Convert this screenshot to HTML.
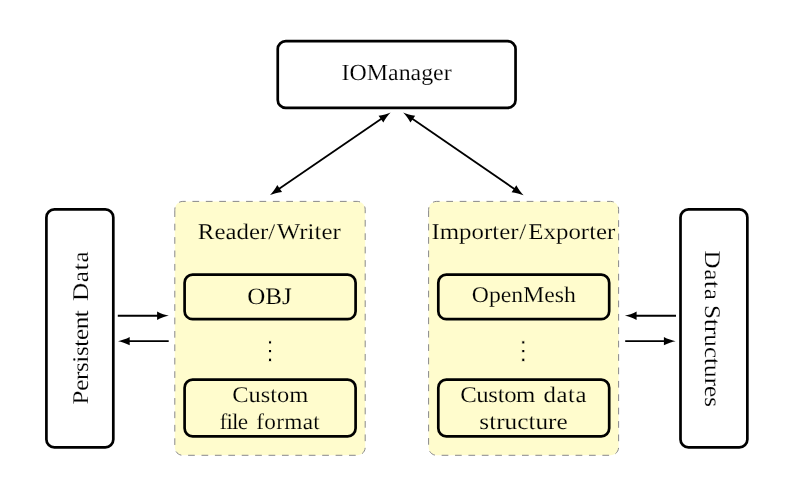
<!DOCTYPE html>
<html><head><meta charset="utf-8"><title>IOManager diagram</title>
<style>
html,body{margin:0;padding:0;background:#fff;}
body{width:800px;height:489px;overflow:hidden;}
svg{display:block;will-change:transform;}
svg text{font-family:"Liberation Serif",serif;fill:#000;text-rendering:geometricPrecision;}
svg text.vd{font-family:"DejaVu Sans","DejaVu Serif",sans-serif;}
</style></head>
<body>
<svg width="800" height="489" viewBox="0 0 800 489">
<rect x="0" y="0" width="800" height="489" fill="#fff"/>
<path d="M277.75 49.10 L277.75 99.90 C277.75 104.32 281.33 107.90 285.75 107.90 L507.55 107.90 C511.97 107.90 515.55 104.32 515.55 99.90 L515.55 49.10 C515.55 44.68 511.97 41.10 507.55 41.10 L285.75 41.10 C281.33 41.10 277.75 44.68 277.75 49.10 Z" fill="#fff" stroke="#000" stroke-width="2.7" />
<path d="M46.40 217.40 L46.40 439.40 C46.40 443.82 49.98 447.40 54.40 447.40 L105.30 447.40 C109.72 447.40 113.30 443.82 113.30 439.40 L113.30 217.40 C113.30 212.98 109.72 209.40 105.30 209.40 L54.40 209.40 C49.98 209.40 46.40 212.98 46.40 217.40 Z" fill="#fff" stroke="#000" stroke-width="2.7" />
<path d="M680.50 217.40 L680.50 439.40 C680.50 443.82 684.08 447.40 688.50 447.40 L739.35 447.40 C743.77 447.40 747.35 443.82 747.35 439.40 L747.35 217.40 C747.35 212.98 743.77 209.40 739.35 209.40 L688.50 209.40 C684.08 209.40 680.50 212.98 680.50 217.40 Z" fill="#fff" stroke="#000" stroke-width="2.7" />
<path d="M174.80 210.30 L174.80 447.30 C174.80 451.72 178.38 455.30 182.80 455.30 L357.20 455.30 C361.62 455.30 365.20 451.72 365.20 447.30 L365.20 209.40 C365.20 204.98 361.62 201.40 357.20 201.40 L182.80 201.40 C178.38 201.40 174.80 204.98 174.80 209.40 L174.80 210.30 Z" fill="#fffccd" stroke="#828286" stroke-width="0.95" stroke-dasharray="6.705 6.705" stroke-dashoffset="0"/>
<path d="M428.60 210.30 L428.60 447.30 C428.60 451.72 432.18 455.30 436.60 455.30 L610.60 455.30 C615.02 455.30 618.60 451.72 618.60 447.30 L618.60 209.40 C618.60 204.98 615.02 201.40 610.60 201.40 L436.60 201.40 C432.18 201.40 428.60 204.98 428.60 209.40 L428.60 210.30 Z" fill="#fffccd" stroke="#828286" stroke-width="0.95" stroke-dasharray="6.698 6.698" stroke-dashoffset="0"/>
<path d="M184.60 282.70 L184.60 311.20 C184.60 315.62 188.18 319.20 192.60 319.20 L347.60 319.20 C352.02 319.20 355.60 315.62 355.60 311.20 L355.60 282.70 C355.60 278.28 352.02 274.70 347.60 274.70 L192.60 274.70 C188.18 274.70 184.60 278.28 184.60 282.70 Z" fill="#fffccd" stroke="#000" stroke-width="2.7" />
<path d="M184.60 387.70 L184.60 428.30 C184.60 432.72 188.18 436.30 192.60 436.30 L347.60 436.30 C352.02 436.30 355.60 432.72 355.60 428.30 L355.60 387.70 C355.60 383.28 352.02 379.70 347.60 379.70 L192.60 379.70 C188.18 379.70 184.60 383.28 184.60 387.70 Z" fill="#fffccd" stroke="#000" stroke-width="2.7" />
<path d="M438.30 282.70 L438.30 311.20 C438.30 315.62 441.88 319.20 446.30 319.20 L601.20 319.20 C605.62 319.20 609.20 315.62 609.20 311.20 L609.20 282.70 C609.20 278.28 605.62 274.70 601.20 274.70 L446.30 274.70 C441.88 274.70 438.30 278.28 438.30 282.70 Z" fill="#fffccd" stroke="#000" stroke-width="2.7" />
<path d="M438.30 387.70 L438.30 428.30 C438.30 432.72 441.88 436.30 446.30 436.30 L601.20 436.30 C605.62 436.30 609.20 432.72 609.20 428.30 L609.20 387.70 C609.20 383.28 605.62 379.70 601.20 379.70 L446.30 379.70 C441.88 379.70 438.30 383.28 438.30 387.70 Z" fill="#fffccd" stroke="#000" stroke-width="2.7" />
<text class="vd" transform="translate(254.74 358.80) scale(1.2 1)" font-size="25.5" stroke="#fffccd" stroke-width="0.8">⋮</text>
<text class="vd" transform="translate(508.08 358.80) scale(1.2 1)" font-size="25.5" stroke="#fffccd" stroke-width="0.8">⋮</text>
<path d="M270.00 195.10 C272.26 192.87 275.49 188.62 277.28 185.02 L282.03 191.95 C278.02 192.32 272.89 193.80 270.00 195.10 Z" fill="#000"/>
<path d="M390.60 112.50 C388.34 114.73 385.11 118.98 383.32 122.58 L378.57 115.65 C382.58 115.28 387.71 113.80 390.60 112.50 Z" fill="#000"/>
<line x1="277.72" y1="189.81" x2="382.88" y2="117.79" stroke="#000" stroke-width="1.8"/>
<path d="M523.60 195.30 C520.71 193.99 515.58 192.51 511.58 192.13 L516.34 185.21 C518.12 188.81 521.35 193.07 523.60 195.30 Z" fill="#000"/>
<path d="M403.15 112.50 C406.04 113.81 411.17 115.29 415.17 115.67 L410.41 122.59 C408.63 118.99 405.40 114.73 403.15 112.50 Z" fill="#000"/>
<line x1="515.89" y1="190.00" x2="410.86" y2="117.80" stroke="#000" stroke-width="1.8"/>
<path d="M168.80 315.75 C165.68 316.31 160.61 317.99 157.10 319.95 L157.10 311.55 C160.61 313.51 165.68 315.19 168.80 315.75 Z" fill="#000"/>
<line x1="117.80" y1="315.75" x2="159.44" y2="315.75" stroke="#000" stroke-width="1.8"/>
<path d="M118.00 341.15 C121.12 340.59 126.19 338.91 129.70 336.95 L129.70 345.35 C126.19 343.39 121.12 341.71 118.00 341.15 Z" fill="#000"/>
<line x1="168.70" y1="341.15" x2="127.36" y2="341.15" stroke="#000" stroke-width="1.8"/>
<path d="M624.90 315.75 C628.02 315.19 633.09 313.51 636.60 311.55 L636.60 319.95 C633.09 317.99 628.02 316.31 624.90 315.75 Z" fill="#000"/>
<line x1="676.00" y1="315.75" x2="634.26" y2="315.75" stroke="#000" stroke-width="1.8"/>
<path d="M675.60 341.15 C672.48 341.71 667.41 343.39 663.90 345.35 L663.90 336.95 C667.41 338.91 672.48 340.59 675.60 341.15 Z" fill="#000"/>
<line x1="625.20" y1="341.15" x2="666.24" y2="341.15" stroke="#000" stroke-width="1.8"/>
<text transform="translate(341.60 80.00) scale(1.0383 1)" font-size="23" stroke="#fff" stroke-width="0.15">IOManager</text>
<text transform="translate(197.85 238.60) scale(1.1045 1)" font-size="22.5" dx="0 0 0 0 0 0 0.0 1.5" stroke="#fffccd" stroke-width="0.15">Reader/Writer</text>
<text transform="translate(431.45 238.60) scale(1.1057 1)" font-size="22.5" dx="0 0 0 0 0 0 0 0 0.6 2.0" stroke="#fffccd" stroke-width="0.15">Importer/Exporter</text>
<text transform="translate(247.15 303.80) scale(1.0624 1)" font-size="23.6" stroke="#fffccd" stroke-width="0.15">OBJ</text>
<text transform="translate(471.80 302.45) scale(1.0538 1)" font-size="22.5" stroke="#fffccd" stroke-width="0.15">OpenMesh</text>
<text transform="translate(232.25 401.60) scale(1.0871 1)" font-size="22.5" stroke="#fffccd" stroke-width="0.15">Custom</text>
<text transform="translate(219.50 428.60) scale(1.0355 1)" font-size="22.5" dx="0 -0.805 -0.805 -0.805 0 2.173 0.29 0.29 0.29 0.29 0.29" stroke="#fffccd" stroke-width="0.15">file format</text>
<text transform="translate(460.25 401.60) scale(1.1013 1)" font-size="22.5" dx="0 -0.363 -0.363 -0.363 -0.363 -0.363 0 1.816 0.454 0.454 0.454" stroke="#fffccd" stroke-width="0.15">Custom data</text>
<text transform="translate(479.35 428.60) scale(1.1216 1)" font-size="22.5" stroke="#fffccd" stroke-width="0.15">structure</text>
<text transform="translate(87.60 404.40) rotate(-90) scale(1.1160 1)" font-size="22.5" dx="0 -0.348 -0.348 -0.348 -0.348 -0.348 -0.348 -0.348 -0.348 -0.348 0 2.464 0.672 0.672 0.672" stroke="#fff" stroke-width="0.15">Persistent Data</text>
<text transform="translate(705.30 250.50) rotate(90) scale(1.1154 1)" font-size="22.5" dx="0 0.598 0.598 0.598 0 -1.121 0.025 0.025 0.025 0.025 0.025 0.025 0.025 0.025 0.025" stroke="#fff" stroke-width="0.15">Data Structures</text>
</svg>
</body></html>
